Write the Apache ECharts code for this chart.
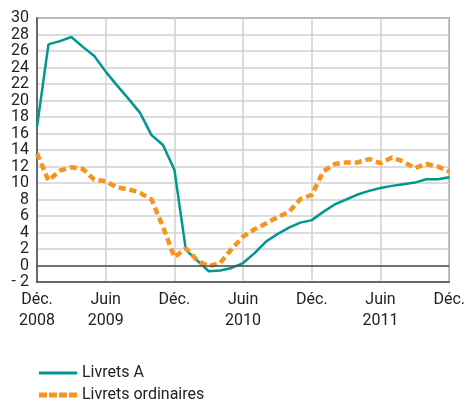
<!DOCTYPE html>
<html>
<head>
<meta charset="utf-8">
<script src="https://cdn.jsdelivr.net/npm/echarts@6/dist/echarts.min.js"></script>
<style>
  html, body { margin: 0; padding: 0; background: #fff; }
  #chart { width: 468px; height: 401px; }
</style>
</head>
<body>
<div id="chart"></div>
<script>
// mois de déc. 2008 à déc. 2011
var months = [
  '2008-12',
  '2009-01','2009-02','2009-03','2009-04','2009-05','2009-06',
  '2009-07','2009-08','2009-09','2009-10','2009-11','2009-12',
  '2010-01','2010-02','2010-03','2010-04','2010-05','2010-06',
  '2010-07','2010-08','2010-09','2010-10','2010-11','2010-12',
  '2011-01','2011-02','2011-03','2011-04','2011-05','2011-06',
  '2011-07','2011-08','2011-09','2011-10','2011-11','2011-12'
];
var tickLabels = ['Déc.\n2008', 'Juin\n2009', 'Déc.', 'Juin\n2010', 'Déc.', 'Juin\n2011', 'Déc.'];

var livretsA = [
  16.8,
  26.8, 27.2, 27.7, 26.5, 25.4, 23.5,
  21.8, 20.2, 18.5, 15.8, 14.6, 11.6,
  1.9, 0.6, -0.7, -0.6, -0.3, 0.3,
  1.5, 2.9, 3.8, 4.6, 5.2, 5.5,
  6.5, 7.4, 8.0, 8.6, 9.05, 9.4,
  9.65, 9.85, 10.05, 10.45, 10.45, 10.7
];
var livretsOrdinaires = [
  13.6,
  10.3, 11.5, 11.9, 11.7, 10.4, 10.2,
  9.45, 9.25, 8.8, 8.0, 4.7, 1.0,
  2.1, 0.6, -0.1, 0.3, 2.0, 3.5,
  4.4, 5.1, 5.85, 6.5, 8.05, 8.55,
  11.4, 12.3, 12.5, 12.5, 12.9, 12.4,
  13.1, 12.6, 11.8, 12.3, 12.0, 11.4
];

var font = 'Roboto, sans-serif';
var teal = '#00978f';
var orange = '#f7941d';

var legendText = { fontFamily: font, fontSize: 16, color: '#222' };

var chart = echarts.init(document.getElementById('chart'));
chart.setOption({
  animation: false,
  grid: {
    left: 37, right: 15, top: 18, bottom: 119,
    show: true, borderColor: '#4d4d4d', borderWidth: 1.5
  },
  legend: [
    {
      left: 34, top: 360,
      itemWidth: 38, itemHeight: 3,
      icon: 'rect',
      textStyle: legendText,
      data: ['Livrets A']
    },
    {
      left: 34, top: 382,
      itemWidth: 38, itemHeight: 5,
      icon: 'path://M0,0h8v5h-8z M10,0h8v5h-8z M20,0h8v5h-8z M30,0h8v5h-8z',
      textStyle: legendText,
      data: ['Livrets ordinaires']
    }
  ],
  xAxis: {
    type: 'category',
    data: months,
    boundaryGap: false,
    axisLine: { onZero: false, lineStyle: { color: '#4d4d4d', width: 1.5 } },
    axisTick: { show: false },
    axisLabel: {
      interval: 5,
      margin: 7,
      fontFamily: font, fontSize: 16, color: '#222', lineHeight: 21,
      formatter: function (v, i) { return tickLabels[i / 6]; }
    },
    splitLine: { show: true, interval: 5, lineStyle: { color: '#d0d0d0', width: 1.5 } }
  },
  yAxis: {
    type: 'value',
    min: -2, max: 30, interval: 2,
    axisLine: { show: true, lineStyle: { color: '#4d4d4d', width: 1.5 } },
    axisTick: { show: false },
    axisLabel: {
      margin: 8,
      fontFamily: font, fontSize: 16, color: '#222',
      formatter: function (v) { return v < 0 ? '- ' + Math.abs(v) : String(v); }
    },
    splitLine: { lineStyle: { color: '#d0d0d0', width: 1.5 } }
  },
  series: [
    {
      name: 'Livrets A',
      type: 'line',
      data: livretsA,
      symbol: 'none',
      color: teal,
      lineStyle: { width: 2.5, color: teal },
      markLine: {
        silent: true,
        symbol: 'none',
        label: { show: false },
        lineStyle: { color: '#4d4d4d', width: 1.5, type: 'solid' },
        data: [{ yAxis: 0 }]
      },
      z: 3
    },
    {
      name: 'Livrets ordinaires',
      type: 'line',
      data: livretsOrdinaires,
      symbol: 'none',
      color: orange,
      lineStyle: { width: 4.5, color: orange, type: [7, 4] },
      z: 4
    }
  ]
});
</script>
</body>
</html>
